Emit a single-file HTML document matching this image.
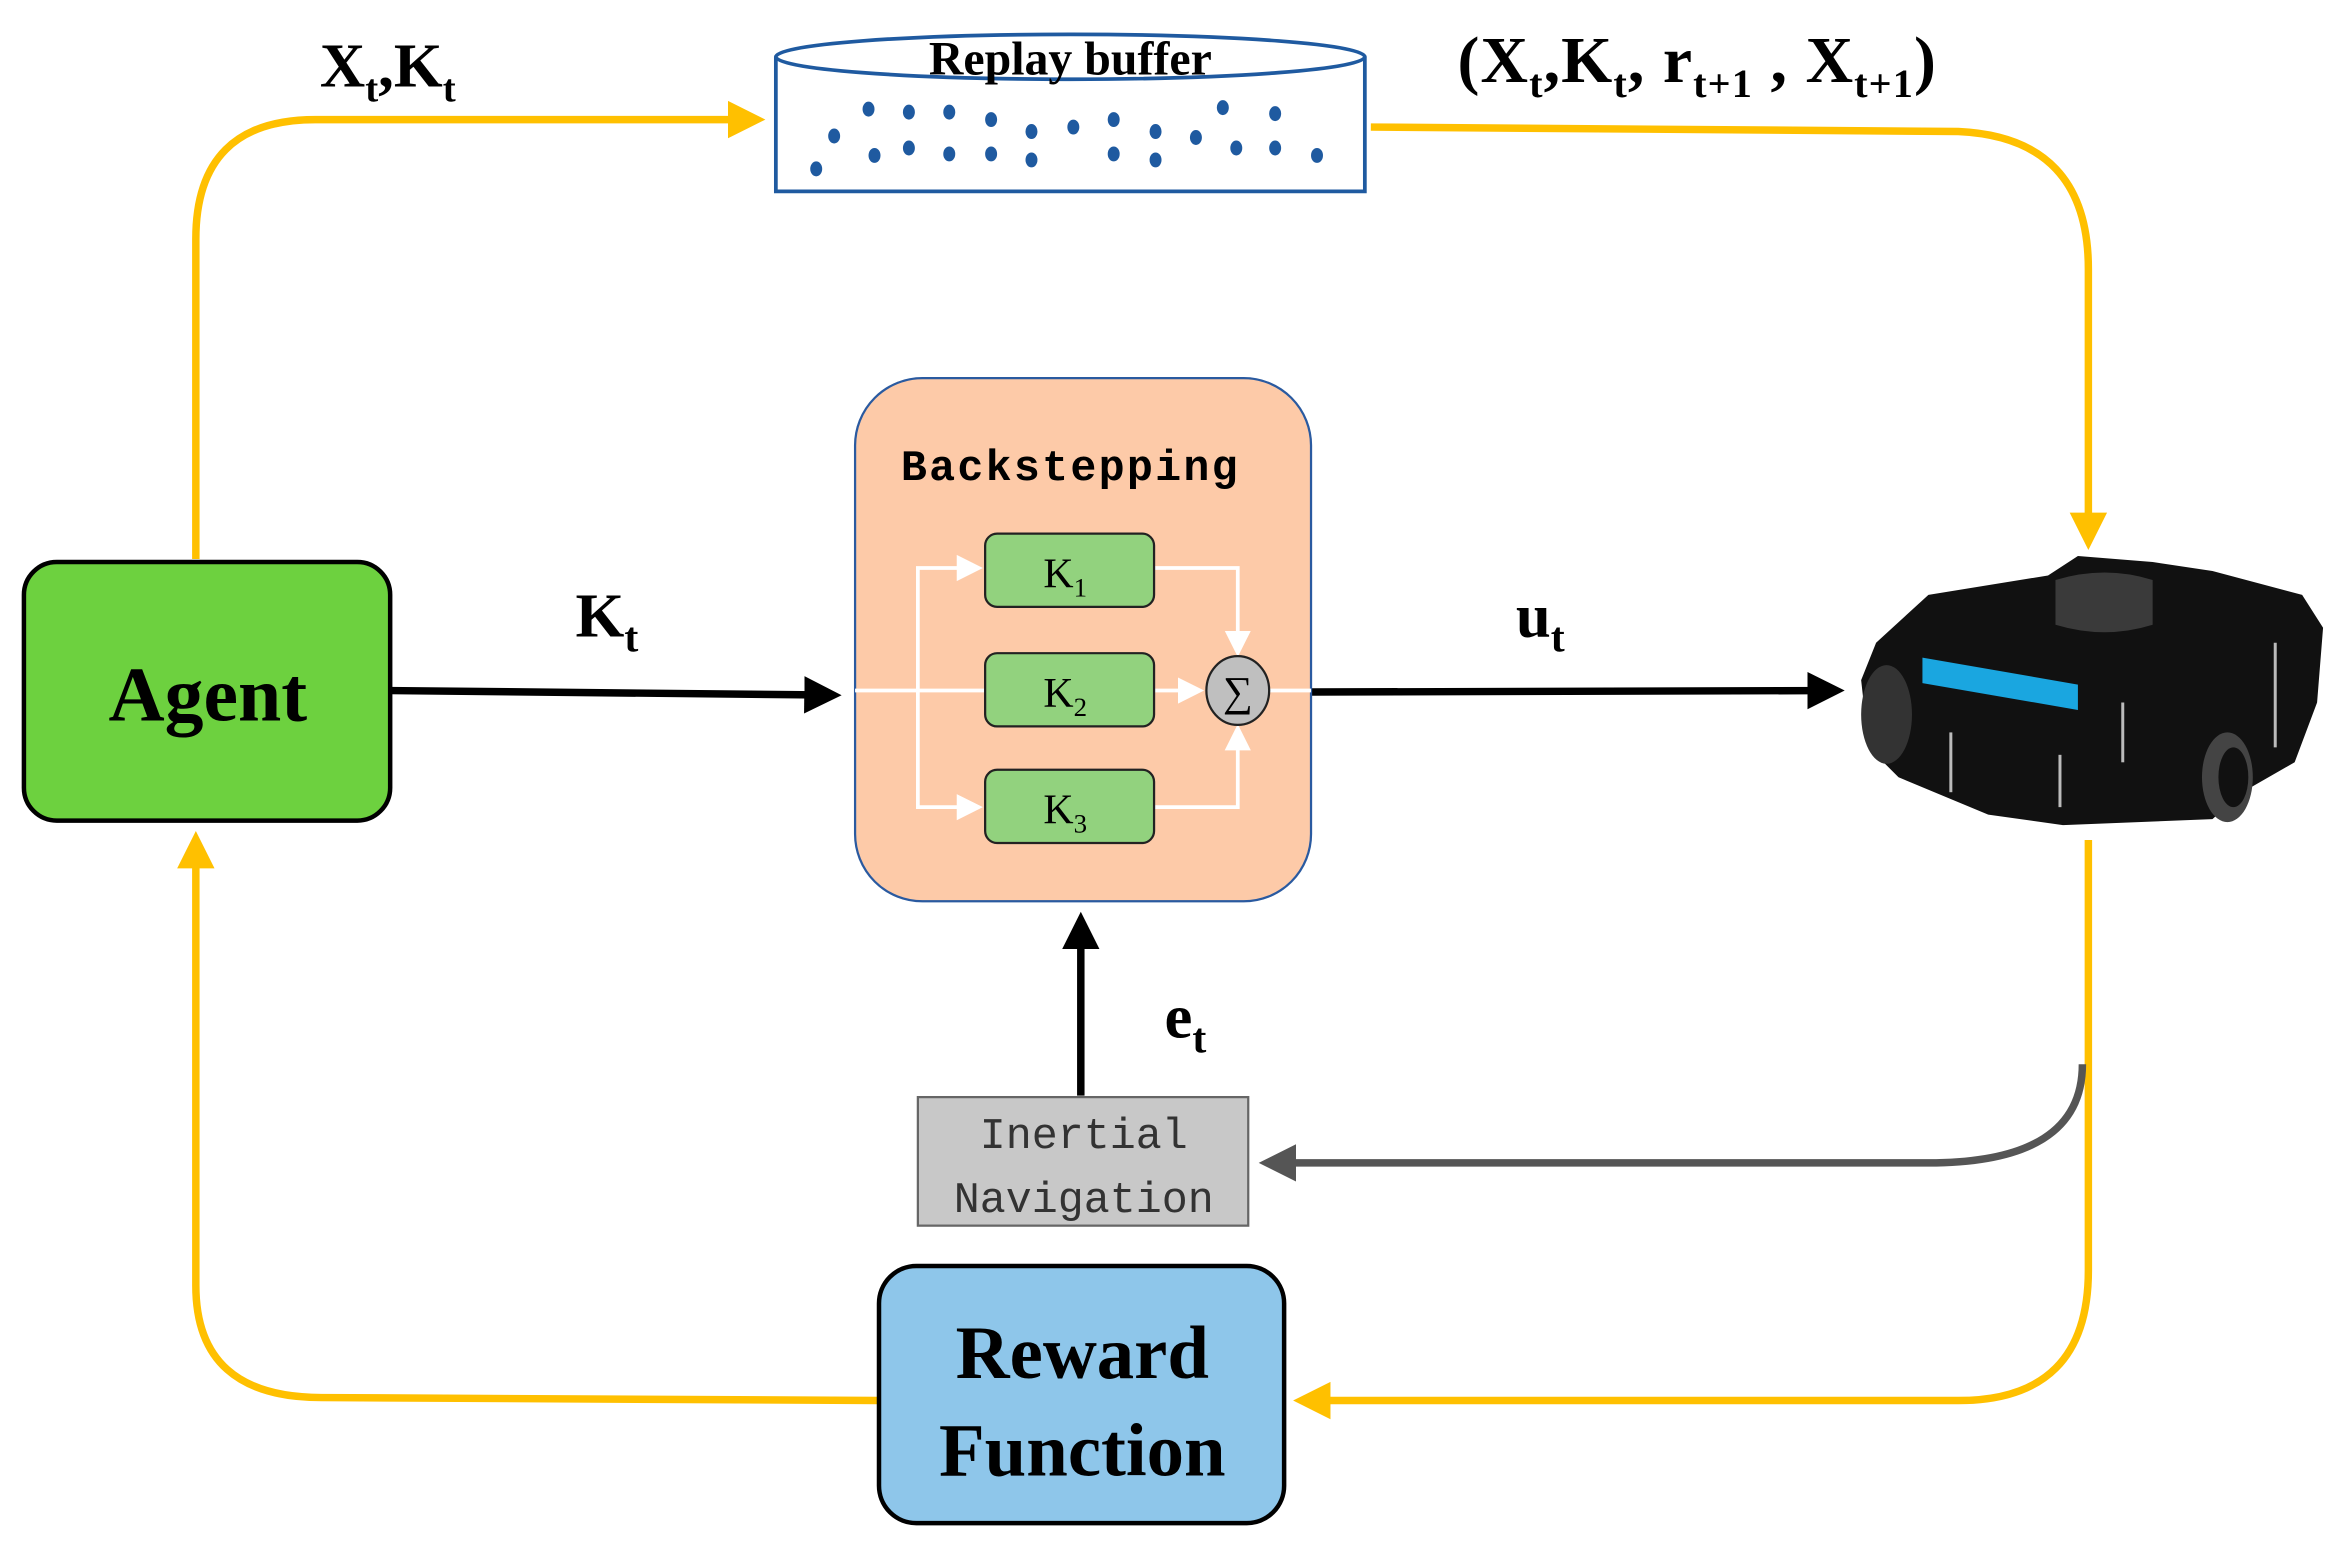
<!DOCTYPE html>
<html><head><meta charset="utf-8"><style>
html,body{margin:0;padding:0;background:#fff;}
svg{display:block;}
text{font-family:"Liberation Serif",serif;}
</style></head><body>
<svg width="2344" height="1553" viewBox="0 0 1568 1039" preserveAspectRatio="none" xmlns="http://www.w3.org/2000/svg">
<defs>
<marker id="ya" markerWidth="6" markerHeight="6" refX="3" refY="3" orient="auto" markerUnits="strokeWidth"><path d="M0,0.5 L5,3 L0,5.5 Z" fill="#ffc000"/></marker>
<marker id="ba" markerWidth="6" markerHeight="6" refX="3" refY="3" orient="auto" markerUnits="strokeWidth"><path d="M0,0.5 L5,3 L0,5.5 Z" fill="#000"/></marker>
<marker id="ga" markerWidth="6" markerHeight="6" refX="3" refY="3" orient="auto" markerUnits="strokeWidth"><path d="M0,0.5 L5,3 L0,5.5 Z" fill="#555"/></marker>
<marker id="wa" markerWidth="8" markerHeight="8" refX="4" refY="4" orient="auto" markerUnits="strokeWidth"><path d="M0,0.5 L7,4 L0,7.5 Z" fill="#fff"/></marker>
</defs>

<g fill="none" stroke="#ffc000" stroke-width="5">
<path d="M131,374 L131,160 Q131,80 211,80 L502,80" marker-end="url(#ya)"/>
<path d="M917,85 L1310,88 Q1397,92 1397,180 L1397,358" marker-end="url(#ya)"/>
<path d="M1397,562 L1397,850 Q1397,937 1310,937 L875,937" marker-end="url(#ya)"/>
<path d="M588,937 L215,935 Q131,935 131,860 L131,566" marker-end="url(#ya)"/>
</g>
<path d="M1393,712 Q1393,778 1290,778 L852,778" fill="none" stroke="#555" stroke-width="5" marker-end="url(#ga)"/>

<path d="M261,462 L553,465" stroke="#000" stroke-width="5" fill="none" marker-end="url(#ba)"/>
<path d="M877,463 L1224,462" stroke="#000" stroke-width="5" fill="none" marker-end="url(#ba)"/>
<path d="M723,733 L723,620" stroke="#000" stroke-width="5" fill="none" marker-end="url(#ba)"/>

<path d="M519,38 L519,128 L913,128 L913,38" fill="#fff" stroke="#1f5aa0" stroke-width="2.5"/>
<ellipse cx="716" cy="38" rx="197" ry="15" fill="#fff" stroke="#1f5aa0" stroke-width="2.5"/>
<text x="716" y="50" text-anchor="middle" font-size="32" font-weight="bold">Replay buffer</text>
<g fill="#1f5aa0">
<ellipse cx="581" cy="73" rx="4" ry="5"/><ellipse cx="608" cy="75" rx="4" ry="5"/><ellipse cx="635" cy="75" rx="4" ry="5"/><ellipse cx="663" cy="80" rx="4" ry="5"/><ellipse cx="690" cy="88" rx="4" ry="5"/><ellipse cx="718" cy="85" rx="4" ry="5"/><ellipse cx="745" cy="80" rx="4" ry="5"/><ellipse cx="773" cy="88" rx="4" ry="5"/><ellipse cx="800" cy="92" rx="4" ry="5"/><ellipse cx="818" cy="72" rx="4" ry="5"/><ellipse cx="853" cy="76" rx="4" ry="5"/><ellipse cx="558" cy="91" rx="4" ry="5"/><ellipse cx="585" cy="104" rx="4" ry="5"/><ellipse cx="608" cy="99" rx="4" ry="5"/><ellipse cx="635" cy="103" rx="4" ry="5"/><ellipse cx="663" cy="103" rx="4" ry="5"/><ellipse cx="690" cy="107" rx="4" ry="5"/><ellipse cx="745" cy="103" rx="4" ry="5"/><ellipse cx="773" cy="107" rx="4" ry="5"/><ellipse cx="827" cy="99" rx="4" ry="5"/><ellipse cx="853" cy="99" rx="4" ry="5"/><ellipse cx="881" cy="104" rx="4" ry="5"/><ellipse cx="546" cy="113" rx="4" ry="5"/>
</g>

<text x="214" y="58" font-size="42" font-weight="bold">X<tspan font-size="26" dy="10">t</tspan><tspan dy="-10">,</tspan>K<tspan font-size="26" dy="10">t</tspan></text>
<text x="975" y="55" font-size="44" font-weight="bold" textLength="320" lengthAdjust="spacing">(X<tspan font-size="27" dy="10">t</tspan><tspan dy="-10">,</tspan>K<tspan font-size="27" dy="10">t</tspan><tspan dy="-10">, r</tspan><tspan font-size="27" dy="10">t+1</tspan><tspan dy="-10"> , X</tspan><tspan font-size="27" dy="10">t+1</tspan><tspan dy="-10">)</tspan></text>
<text x="385" y="426" font-size="42" font-weight="bold">K<tspan font-size="28" dy="10">t</tspan></text>
<text x="1014" y="426" font-size="42" font-weight="bold">u<tspan font-size="28" dy="10">t</tspan></text>
<text x="779" y="694" font-size="42" font-weight="bold">e<tspan font-size="28" dy="10">t</tspan></text>

<rect x="16" y="376" width="245" height="173" rx="22" fill="#6dd13f" stroke="#000" stroke-width="3"/>
<text x="139" y="482" text-anchor="middle" font-size="52" font-weight="bold">Agent</text>

<rect x="572" y="253" width="305" height="350" rx="45" fill="#fdcaa8" stroke="#2a5aa0" stroke-width="1.5"/>
<text x="716" y="321" text-anchor="middle" font-size="29" font-weight="bold" letter-spacing="1.5" style="font-family:'Liberation Mono',monospace">Backstepping</text>
<g stroke="#fff" stroke-width="2.5" fill="none">
<path d="M572,462 L659,462"/>
<path d="M614,462 L614,380 L650,380" marker-end="url(#wa)"/>
<path d="M614,462 L614,540 L650,540" marker-end="url(#wa)"/>
<path d="M772,380 L828,380 L828,432" marker-end="url(#wa)"/>
<path d="M772,462 L798,462" marker-end="url(#wa)"/>
<path d="M772,540 L828,540 L828,492" marker-end="url(#wa)"/>
<path d="M849,462 L877,462"/>
</g>
<g fill="#92d27e" stroke="#222" stroke-width="1.5">
<rect x="659" y="357" width="113" height="49" rx="8"/>
<rect x="659" y="437" width="113" height="49" rx="8"/>
<rect x="659" y="515" width="113" height="49" rx="8"/>
</g>
<text x="698" y="393" font-size="28">K<tspan font-size="18" dy="6">1</tspan></text>
<text x="698" y="473" font-size="28">K<tspan font-size="18" dy="6">2</tspan></text>
<text x="698" y="551" font-size="28">K<tspan font-size="18" dy="6">3</tspan></text>
<ellipse cx="828" cy="462" rx="21" ry="23" fill="#bfbfbf" stroke="#222" stroke-width="1.5"/>
<text x="828" y="472" text-anchor="middle" font-size="28">∑</text>

<rect x="614" y="734" width="221" height="86" fill="#c8c8c8" stroke="#666" stroke-width="1.5"/>
<text x="725" y="768" text-anchor="middle" font-size="29" fill="#333" style="font-family:'Liberation Mono',monospace">Inertial</text>
<text x="725" y="811" text-anchor="middle" font-size="29" fill="#333" style="font-family:'Liberation Mono',monospace">Navigation</text>

<rect x="588" y="847" width="271" height="172" rx="25" fill="#8ec6ea" stroke="#000" stroke-width="3"/>
<text x="724" y="922" text-anchor="middle" font-size="50" font-weight="bold">Reward</text>
<text x="724" y="987" text-anchor="middle" font-size="50" font-weight="bold">Function</text>

<g>
<path d="M1255,430 L1290,398 L1370,385 L1390,372 L1440,376 L1480,382 L1540,398 L1554,420 L1550,470 L1535,510 L1500,530 L1480,548 L1380,552 L1330,545 L1270,520 L1250,500 L1245,455 Z" fill="#111"/>
<ellipse cx="1262" cy="478" rx="17" ry="33" fill="#333"/>
<ellipse cx="1490" cy="520" rx="17" ry="30" fill="#444"/>
<ellipse cx="1494" cy="520" rx="10" ry="20" fill="#111"/>
<path d="M1375,388 Q1408,378 1440,388 L1440,418 Q1408,428 1375,418 Z" fill="#3a3a3a"/>
<path d="M1286,440 L1390,458 L1390,475 L1286,457 Z" fill="#1aa6e0"/>
<g stroke="#bbb" stroke-width="2"><line x1="1305" y1="490" x2="1305" y2="530"/><line x1="1378" y1="505" x2="1378" y2="540"/><line x1="1420" y1="470" x2="1420" y2="510"/><line x1="1522" y1="430" x2="1522" y2="500"/></g>
</g>
</svg>
</body></html>
